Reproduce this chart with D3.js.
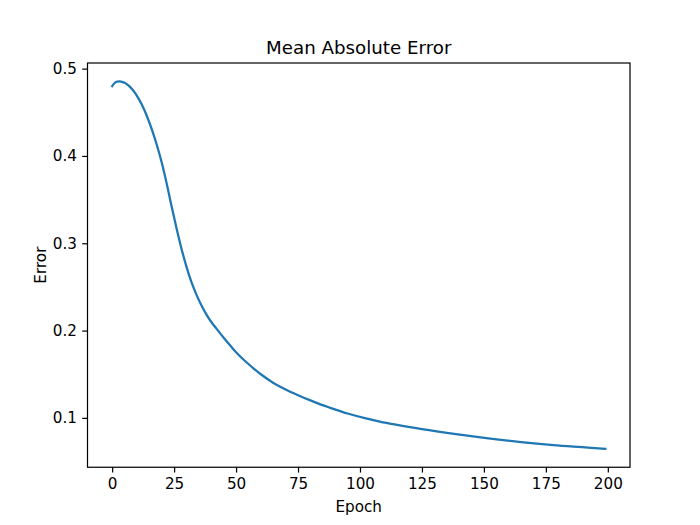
<!DOCTYPE html>
<html>
<head>
<meta charset="utf-8">
<script src="https://cdn.jsdelivr.net/npm/d3@7"></script>
<style>
  html, body { margin: 0; padding: 0; background: #fff; }
  svg { display: block; font-family: "DejaVu Sans", sans-serif; }
</style>
</head>
<body>
<svg id="chart" width="700" height="525"></svg>
<script>
// Data
const epochs = [0, 1, 2, 3, 4, 5, 6, 7, 8, 9, 10, 12, 14, 16, 18, 20, 22, 24, 26, 28, 30, 32, 34, 36, 38, 40, 42, 45, 48, 50, 52, 55, 57, 60, 64, 70, 75, 80, 84, 88, 95, 102, 108, 115, 125, 138, 151, 165, 178, 192, 199];
const errors = [0.480, 0.4835, 0.4852, 0.4854, 0.4849, 0.4838, 0.4820, 0.4797, 0.4767, 0.4731, 0.4689, 0.4586, 0.4458, 0.4305, 0.4128, 0.3925, 0.3685, 0.3420, 0.3170, 0.2935, 0.2730, 0.2555, 0.2412, 0.2290, 0.2186, 0.2098, 0.2025, 0.1918, 0.1817, 0.1752, 0.1695, 0.1617, 0.1568, 0.1500, 0.1420, 0.1325, 0.1260, 0.1200, 0.1155, 0.1115, 0.1050, 0.0997, 0.0958, 0.0920, 0.0872, 0.0817, 0.0768, 0.0722, 0.0688, 0.0660, 0.0645];
const xTicks = [0, 25, 50, 75, 100, 125, 150, 175, 200];
const yTicks = [0.1, 0.2, 0.3, 0.4, 0.5];
const title = "Mean Absolute Error";
const xLabel = "Epoch";
const yLabel = "Error";

(function () {
const mLeft = 87.5, mRight = 630, mTop = 63, mBottom = 467.25;
const s = 700 / 640; // figure scale
const tickFont = (13.89 * s).toFixed(2) + "px";
const titleFont = (16.67 * s).toFixed(2) + "px";
const tickLen = 4.86 * s;

const svg = d3.select("#chart");

const xMin = d3.min(epochs), xMax = d3.max(epochs);
const xPad = (xMax - xMin) * 0.05;
const yMin = d3.min(errors), yMax = d3.max(errors);
const yPad = (yMax - yMin) * 0.05;

const x = d3.scaleLinear().domain([xMin - xPad, xMax + xPad]).range([mLeft, mRight]);
const y = d3.scaleLinear().domain([yMin - yPad, yMax + yPad]).range([mBottom, mTop]);

const data = epochs.map((e, i) => ({ e, v: errors[i] }));

// line
svg.append("path")
  .datum(data)
  .attr("fill", "none")
  .attr("stroke", "#1f77b4")
  .attr("stroke-width", 2.08 * s)
  .attr("stroke-linejoin", "round")
  .attr("stroke-linecap", "square")
  .attr("d", d3.line().x(d => x(d.e)).y(d => y(d.v)).curve(d3.curveMonotoneX));

// axes
const xAxis = svg.append("g")
  .attr("transform", `translate(0,${mBottom})`)
  .call(d3.axisBottom(x).tickValues(xTicks).tickFormat(d3.format("d")).tickSizeOuter(0).tickSizeInner(tickLen).tickPadding(tickLen));
const yAxis = svg.append("g")
  .attr("transform", `translate(${mLeft},0)`)
  .call(d3.axisLeft(y).tickValues(yTicks).tickFormat(d3.format(".1f")).tickSizeOuter(0).tickSizeInner(tickLen).tickPadding(tickLen));

[xAxis, yAxis].forEach(g => {
  g.select(".domain").remove();
  g.selectAll(".tick line").attr("stroke", "#000").attr("stroke-width", 1.11 * s);
  g.selectAll(".tick text").attr("fill", "#000").style("font-size", tickFont).style("font-family", "'DejaVu Sans', sans-serif");
});

// frame (spines)
svg.append("rect")
  .attr("x", mLeft).attr("y", mTop)
  .attr("width", mRight - mLeft).attr("height", mBottom - mTop)
  .attr("fill", "none").attr("stroke", "#000").attr("stroke-width", 1.11 * s);

// title
svg.append("text")
  .attr("x", (mLeft + mRight) / 2).attr("y", mTop - 8.33 * s)
  .attr("text-anchor", "middle")
  .style("font-size", titleFont)
  .attr("fill", "#000")
  .text(title);

// x label
svg.append("text")
  .attr("x", (mLeft + mRight) / 2).attr("y", 512)
  .attr("text-anchor", "middle")
  .style("font-size", tickFont)
  .attr("fill", "#000")
  .text(xLabel);

// y label
svg.append("text")
  .attr("transform", `translate(46,${(mTop + mBottom) / 2}) rotate(-90)`)
  .attr("text-anchor", "middle")
  .style("font-size", tickFont)
  .attr("fill", "#000")
  .text(yLabel);
})();
</script>
</body>
</html>
